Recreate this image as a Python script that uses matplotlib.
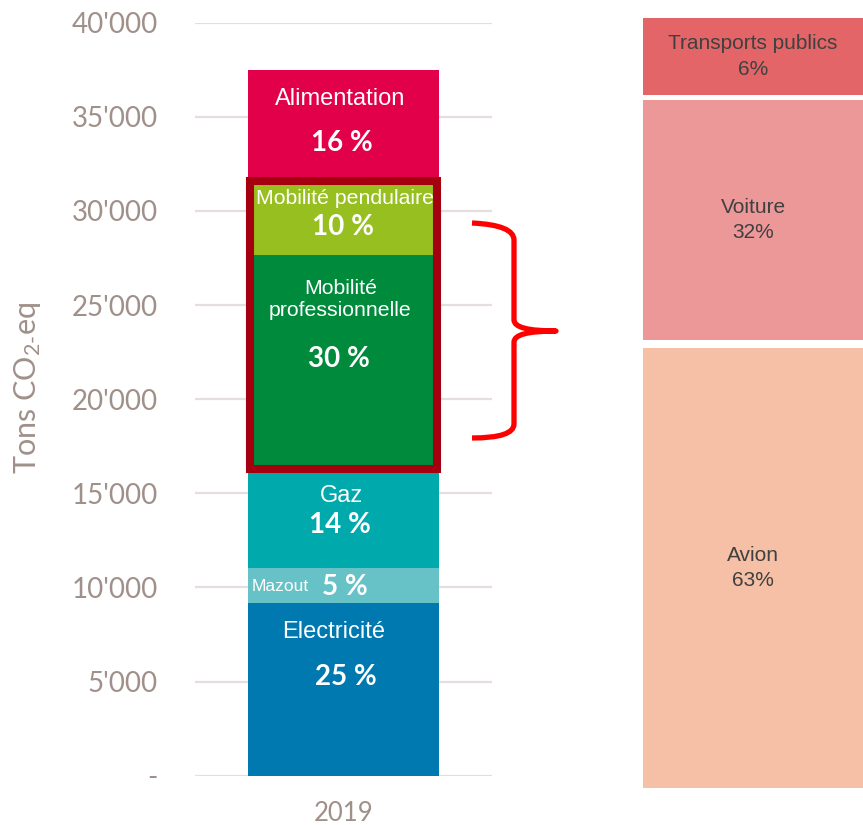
import matplotlib.pyplot as plt
from matplotlib.patches import Rectangle, PathPatch
from matplotlib.path import Path

plt.rcParams["mathtext.fontset"] = "custom"
plt.rcParams["mathtext.rm"] = "Lato"
plt.rcParams["mathtext.it"] = "Lato:italic"

# ---------------------------------------------------------------------
# Data
# ---------------------------------------------------------------------
categories = ["Electricité", "Mazout", "Gaz", "Mobilité\nprofessionnelle",
              "Mobilité pendulaire", "Alimentation"]
values = [9200, 1850, 5250, 11350, 3950, 5900]          # tons CO2-eq, 2019
shares = ["25 %", "5 %", "14 %", "30 %", "10 %", "16 %"]
colors = ["#0079B0", "#66C2C6", "#00AAAC", "#008A3C", "#97BF1F", "#E2004B"]

year = "2019"
yticks = [0, 5000, 10000, 15000, 20000, 25000, 30000, 35000, 40000]
ytick_labels = ["-", "5'000", "10'000", "15'000", "20'000", "25'000",
                "30'000", "35'000", "40'000"]

# breakdown of mobility (right panel)
mob_names = ["Transports publics", "Voiture", "Avion"]
mob_labels = ["6%", "32%", "63%"]
mob_box = [10.0, 31.2, 57.1]        # box heights as drawn (% of panel)
mob_gaps = [0.65, 1.04]
mob_colors = ["#E36568", "#EC9798", "#F6C0A6"]

TICK = "#A0908A"
FONT_NUM = "Lato"
FONT_TXT = "Liberation Sans"

# ---------------------------------------------------------------------
# Figure
# ---------------------------------------------------------------------
W, H = 863, 825
fig = plt.figure(figsize=(W / 100, H / 100), dpi=100)
ax = fig.add_axes([195 / W, 49.3 / H, 297 / W, 753 / H])

bar_w = 0.643
bottoms = []
b = 0
for v, c in zip(values, colors):
    ax.bar(0, v, bottom=b, width=bar_w, color=c, linewidth=0, zorder=3)
    bottoms.append(b)
    b += v
tops = [bb + v for bb, v in zip(bottoms, values)]

ax.set_xlim(-0.5, 0.5)
ax.set_ylim(0, 40000)
ax.set_yticks(yticks)
ax.set_yticklabels(ytick_labels)
ax.set_xticks([0])
ax.set_xticklabels([year])
ax.tick_params(axis="y", length=0, pad=27, labelsize=20, labelcolor=TICK)
ax.tick_params(axis="x", length=0, pad=18, labelsize=18.5, labelcolor=TICK)
for lab in ax.get_yticklabels() + ax.get_xticklabels():
    lab.set_fontfamily(FONT_NUM)
for s in ax.spines.values():
    s.set_visible(False)
ax.yaxis.grid(True, color="#E6DEDE", lw=1.6, zorder=0)
ax.set_axisbelow(True)

# outline around the two mobility segments
ax.add_patch(Rectangle((-0.316, bottoms[3]), 0.632, tops[4] - bottoms[3],
                       fill=False, edgecolor="#A50010", lw=5.8, zorder=4))


def seg_text(i, txt, dy, dx=0, size=17, bold=False):
    ax.annotate(txt, xy=(0, tops[i]), xytext=(dx, -dy),
                textcoords="offset pixels", ha="center", va="center",
                color="white", fontsize=size,
                fontfamily=FONT_NUM if bold else FONT_TXT,
                fontweight="bold" if bold else "normal", zorder=5)


# Electricité
seg_text(0, categories[0], 29, dx=-10)
seg_text(0, shares[0], 74, dx=2, size=20, bold=True)
# Mazout
ax.annotate(categories[1], xy=(-bar_w / 2, bottoms[1] + values[1] / 2),
            xytext=(4, -1), textcoords="offset pixels", ha="left",
            va="center", color="white", fontsize=12.5, fontfamily=FONT_TXT,
            zorder=5)
seg_text(1, shares[1], 19, dx=1, size=20, bold=True)
# Gaz
seg_text(2, categories[2], 27, dx=-2)
seg_text(2, shares[2], 56, dx=-4, size=20, bold=True)
# Mobilité professionnelle
seg_text(3, categories[3], 44, dx=-3, size=15.3)
seg_text(3, shares[3], 104, dx=-5, size=20, bold=True)
# Mobilité pendulaire
seg_text(4, categories[4], 18, dx=1, size=15.3)
seg_text(4, shares[4], 46, dx=-1, size=20, bold=True)
# Alimentation
seg_text(5, categories[5], 29, dx=-3)
seg_text(5, shares[5], 73, dx=-2, size=20, bold=True)

# y label
fig.text(28 / W, 1 - 388 / H, r"Tons CO$_{2\text{-}}$eq", rotation=90,
         ha="center", va="center", fontsize=22, color=TICK,
         fontfamily=FONT_NUM)

# curly brace (figure pixel coordinates, y downwards)
pts = [(472, 223), (514, 225), (514, 240), (514, 320), (514, 331), (556, 331),
       (514, 331), (514, 342), (514, 424), (514, 438), (472, 438)]
codes = [Path.MOVETO, Path.CURVE3, Path.CURVE3, Path.LINETO, Path.CURVE3,
         Path.CURVE3, Path.CURVE3, Path.CURVE3, Path.LINETO, Path.CURVE3,
         Path.CURVE3]
brace = Path([(x / W, 1 - y / H) for x, y in pts], codes)
fig.add_artist(PathPatch(brace, transform=fig.transFigure, fill=False,
                         edgecolor="#FF0000", lw=3.8, capstyle="butt",
                         joinstyle="round"))

# ---------------------------------------------------------------------
# Right panel: mobility breakdown
# ---------------------------------------------------------------------
ax2 = fig.add_axes([643 / W, (H - 788) / H, 220 / W, 770 / H])
ax2.set_xlim(0, 1)
ax2.set_ylim(100, 0)
ax2.axis("off")
y0 = 0
for i, (name, lab, h, c) in enumerate(zip(mob_names, mob_labels, mob_box,
                                          mob_colors)):
    ax2.bar(0.5, h, bottom=y0, width=1, color=c, linewidth=0)
    ax2.text(0.5, y0 + h / 2, f"{name}\n{lab}", ha="center", va="center",
             fontsize=15, color="#404040", fontfamily=FONT_TXT,
             linespacing=1.42)
    y0 += h
    if i < len(mob_gaps):
        y0 += mob_gaps[i]

fig.savefig("out.png", dpi=100)
